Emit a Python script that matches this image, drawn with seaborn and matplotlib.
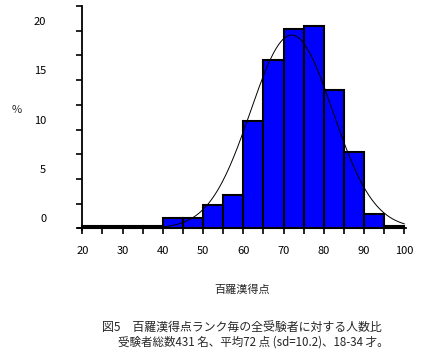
import numpy as np
import matplotlib.pyplot as plt
import matplotlib.transforms as mtransforms
import seaborn as sns

# Data: percentage of examinees per 5-point score band
bin_edges = [20, 25, 30, 35, 40, 45, 50, 55, 60, 65, 70, 75, 80, 85, 90, 95, 100]
bin_pct = [0.23, 0.23, 0.23, 0.23, 1.0, 1.0, 2.4, 3.4, 10.9, 17.0, 20.2, 20.5, 14.0, 7.7, 1.45, 0.23]
score_mean = 72
score_sd = 10.2

x_ticks = [20, 30, 40, 50, 60, 70, 80, 90, 100]
y_ticks = [0, 2.5, 5, 7.5, 10, 12.5, 15, 17.5, 20, 22.5]
y_tick_labels = ['0', '', '5', '', '10', '', '15', '', '20', '']

x_label = '百羅漢得点'
caption_1 = '図5　百羅漢得点ランク毎の全受験者に対する人数比'
caption_2 = '受験者総数431 名、平均72 点 (sd=10.2)、18-34 才。'

sns.set_style('white')
plt.rcParams['font.family'] = ['Noto Sans CJK JP', 'DejaVu Sans']

fig = plt.figure(figsize=(4.36, 3.55), dpi=100)
ax = fig.add_axes([78 / 436, 124.7 / 355, 328 / 436, 224.3 / 355])

# Histogram bars from the band percentages
centers = [(a + b) / 2 for a, b in zip(bin_edges[:-1], bin_edges[1:])]
sns.histplot(x=centers, weights=bin_pct, bins=bin_edges, ax=ax,
             color=(0, 0, 1), edgecolor='black', linewidth=1.5, alpha=1)

# Normal curve for mean/sd given in the caption, scaled to 5-point bands
xs = np.linspace(37.5, 100, 200)
ys = 100 * 5 * np.exp(-0.5 * ((xs - score_mean) / score_sd) ** 2) / (score_sd * np.sqrt(2 * np.pi))
sns.lineplot(x=xs, y=ys, ax=ax, color='black', linewidth=0.7)

ax.set_xlim(18.93, 100.4)
ax.set_ylim(-0.2, 22.5)
ax.spines['left'].set_position(('data', 20))
ax.spines['bottom'].set_position(('data', 0))
ax.spines['top'].set_visible(False)
ax.spines['right'].set_visible(False)
for s in ['left', 'bottom']:
    ax.spines[s].set_linewidth(1.3)
    ax.spines[s].set_color('black')

ax.set_xticks(x_ticks)
ax.set_xticks(np.arange(25, 100, 10), minor=True)
ax.set_yticks(y_ticks, labels=y_tick_labels)
ax.tick_params(axis='both', which='both', direction='out', length=4, width=1.2,
               color='black', labelsize=8, labelcolor='black',
               bottom=True, left=True)
ax.tick_params(axis='x', pad=9)
ax.tick_params(axis='y', pad=22)
offset = mtransforms.ScaledTranslation(0, 10 / 100, fig.dpi_scale_trans)
for lbl in ax.get_yticklabels():
    lbl.set_transform(lbl.get_transform() + offset)

ax.set_xlabel(x_label, fontsize=8, labelpad=20)
ax.set_ylabel('')
ax.grid(False)

fig.text(12 / 436, 1 - 110 / 355, '%', fontsize=8, ha='left', va='center')
fig.text(102 / 436, 1 - 328 / 355, caption_1, fontsize=8.6, ha='left', va='center')
fig.text(118 / 436, 1 - 342 / 355, caption_2, fontsize=8.3, ha='left', va='center')

fig.savefig('out.png', dpi=100, facecolor='white')
